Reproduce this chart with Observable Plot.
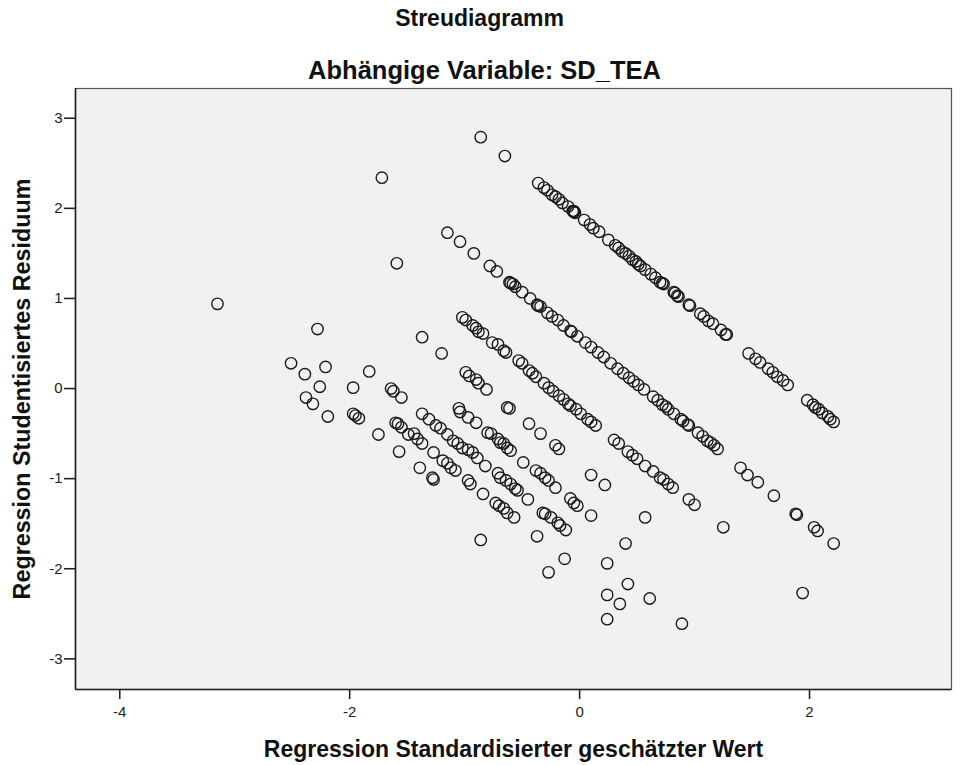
<!DOCTYPE html>
<html><head><meta charset="utf-8">
<script src="https://cdn.jsdelivr.net/npm/d3@7"></script>
<script src="https://cdn.jsdelivr.net/npm/@observablehq/plot@0.6"></script>
<style>
body{margin:0;background:#fff;}
#chart svg{font-family:"Liberation Sans",Arial,sans-serif;}
</style>
</head><body><div id="chart"></div>
<script>
const title = "Streudiagramm";
const subtitle = "Abhängige Variable: SD_TEA";
const xLabel = "Regression Standardisierter geschätzter Wert";
const yLabel = "Regression Studentisiertes Residuum";
const xTicks = [-4, -2, 0, 2];
const yTicks = [-3, -2, -1, 0, 1, 2, 3];

const isolated = [[-1.72,2.34],[-1.59,1.39],[-3.15,0.94],[-2.28,0.66],[-2.51,0.28],[-2.39,0.16],[-2.21,0.24],[-1.83,0.19],[-0.86,2.79],[-0.65,2.58]];
const leftCluster = [[-2.26,0.02],[-1.97,0.01],[-2.38,-0.10],[-2.32,-0.17],[-2.19,-0.31],[-1.64,0.00],[-1.62,-0.03],[-1.55,-0.10],[-1.97,-0.28],[-1.95,-0.30],[-1.92,-0.33],[-1.75,-0.51],[-1.60,-0.38],[-1.58,-0.39],[-1.55,-0.43],[-1.49,-0.51],[-1.57,-0.70]];
const bandA = [[-0.36,2.28],[-0.31,2.23],[-0.28,2.20],[-0.24,2.15],[-0.21,2.13],[-0.18,2.10],[-0.15,2.06],[-0.10,2.02],[-0.06,1.97],[-0.05,1.96],[-0.04,1.95],[-0.05,1.97],[0.04,1.87],[0.09,1.82],[0.12,1.78],[0.17,1.74],[0.25,1.65],[0.31,1.59],[0.34,1.56],[0.37,1.52],[0.40,1.50],[0.43,1.47],[0.46,1.43],[0.49,1.41],[0.51,1.38],[0.53,1.36],[0.57,1.32],[0.62,1.27],[0.66,1.23],[0.70,1.18],[0.72,1.17],[0.73,1.16],[0.82,1.07],[0.83,1.06],[0.85,1.03],[0.86,1.02],[0.95,0.93],[0.96,0.92],[1.05,0.83],[1.08,0.80],[1.12,0.75],[1.16,0.72],[1.23,0.65],[1.27,0.60],[1.28,0.60]];
const bandA2 = [[1.47,0.39],[1.53,0.33],[1.57,0.29],[1.64,0.22],[1.68,0.18],[1.72,0.13],[1.77,0.09],[1.81,0.04],[1.98,-0.13],[2.03,-0.18],[2.05,-0.21],[2.08,-0.23],[2.11,-0.27],[2.16,-0.31],[2.18,-0.34],[2.21,-0.37]];
const bandB = [[-1.15,1.73],[-1.04,1.63],[-0.92,1.50],[-0.78,1.36],[-0.72,1.30],[-0.61,1.18],[-0.58,1.16],[-0.56,1.13],[-0.60,1.17],[-0.50,1.07],[-0.43,1.00],[-0.37,0.93],[-0.34,0.91],[-0.36,0.92],[-0.28,0.84],[-0.24,0.80],[-0.19,0.76],[-0.14,0.70],[-0.08,0.64],[-0.07,0.63],[-0.02,0.58],[0.05,0.51],[0.10,0.46],[0.16,0.40],[0.21,0.35],[0.27,0.28],[0.33,0.22],[0.38,0.17],[0.43,0.12],[0.47,0.08],[0.51,0.04],[0.56,-0.01],[0.64,-0.09],[0.68,-0.13],[0.72,-0.18],[0.75,-0.20],[0.77,-0.23],[0.82,-0.28],[0.88,-0.34],[0.90,-0.36],[0.94,-0.40],[0.95,-0.41],[1.03,-0.49],[1.07,-0.53],[1.11,-0.58],[1.14,-0.60],[1.17,-0.63],[1.20,-0.67]];
const bandB2 = [[1.40,-0.88],[1.46,-0.96],[1.55,-1.04],[1.69,-1.19],[1.88,-1.39],[1.89,-1.40],[2.04,-1.54],[2.07,-1.58],[2.21,-1.72]];
const bandC = [[-1.02,0.79],[-0.99,0.76],[-0.93,0.70],[-0.90,0.67],[-0.88,0.63],[-0.84,0.61],[-0.76,0.51],[-0.71,0.49],[-0.66,0.42],[-0.64,0.40],[-0.53,0.31],[-0.50,0.28],[-0.44,0.20],[-0.41,0.17],[-0.38,0.13],[-0.31,0.06],[-0.27,0.01],[-0.23,-0.03],[-0.18,-0.08],[-0.14,-0.12],[-0.10,-0.17],[-0.08,-0.19],[-0.03,-0.23],[0.01,-0.28],[0.07,-0.34],[0.10,-0.37],[0.14,-0.41],[0.30,-0.57],[0.34,-0.61],[0.42,-0.70],[0.46,-0.74],[0.50,-0.78],[0.57,-0.86],[0.64,-0.92],[0.70,-0.99],[0.73,-1.01],[0.77,-1.06],[0.81,-1.10],[0.95,-1.23],[1.00,-1.29]];
const bandD = [[-1.37,-0.28],[-1.31,-0.34],[-1.25,-0.41],[-1.21,-0.44],[-1.15,-0.51],[-1.10,-0.58],[-1.06,-0.61],[-1.02,-0.66],[-0.97,-0.68],[-0.93,-0.71],[-0.89,-0.77],[-0.82,-0.86],[-0.71,-0.94],[-0.69,-0.99],[-0.64,-1.02],[-0.60,-1.06],[-0.56,-1.11],[-0.54,-1.13],[-0.45,-1.23],[-0.32,-1.38],[-0.30,-1.39],[-0.25,-1.43],[-0.19,-1.49],[-0.17,-1.52],[-0.12,-1.57],[0.24,-1.94],[0.42,-2.17],[0.61,-2.33],[0.89,-2.61]];
const bandE = [[-1.05,-0.22],[-1.04,-0.26],[-0.97,-0.32],[-0.90,-0.38],[-0.80,-0.49],[-0.77,-0.50],[-0.71,-0.56],[-0.69,-0.60],[-0.66,-0.61],[-0.63,-0.66],[-0.60,-0.69],[-0.49,-0.82],[-0.38,-0.91],[-0.34,-0.94],[-0.30,-0.99],[-0.27,-1.02],[-0.21,-1.10],[-0.08,-1.22],[-0.05,-1.27],[-0.02,-1.30],[0.10,-1.41],[0.40,-1.72]];
const bandF = [[-1.37,0.57],[-1.20,0.39],[-0.99,0.18],[-0.96,0.14],[-0.90,0.10],[-0.88,0.06],[-0.81,-0.01],[-0.63,-0.21],[-0.61,-0.22],[-0.44,-0.39],[-0.34,-0.50],[-0.21,-0.63],[-0.18,-0.67],[0.10,-0.96],[0.22,-1.07],[0.57,-1.43]];
const bandG = [[-1.44,-0.50],[-1.41,-0.56],[-1.37,-0.61],[-1.27,-0.71],[-1.19,-0.80],[-1.15,-0.83],[-1.12,-0.88],[-1.08,-0.91],[-0.97,-1.02],[-0.95,-1.06],[-0.84,-1.17],[-0.73,-1.27],[-0.70,-1.30],[-0.66,-1.33],[-0.63,-1.38],[-0.57,-1.43],[-0.37,-1.64],[-0.13,-1.89],[0.24,-2.29],[0.35,-2.39]];
const bandH = [[-1.39,-0.88],[-1.28,-0.99],[-1.27,-1.01],[0.24,-2.56]];
const others = [[-0.86,-1.68],[-0.27,-2.04],[1.25,-1.54],[1.94,-2.27]];

const points = [...isolated, ...leftCluster, ...bandA, ...bandA2, ...bandB, ...bandB2, ...bandC, ...bandD, ...bandE, ...bandF, ...bandG, ...bandH, ...others]
  .map(([x, y]) => ({x, y}));

const font = "Liberation Sans, Arial, sans-serif";
const txt = {text: d => d, fontWeight: "bold", fill: "#111", textAnchor: "middle", lineAnchor: "middle"};
const chart = Plot.plot({
  width: 961,
  height: 765,
  marginTop: 88,
  marginBottom: 76,
  marginLeft: 75,
  marginRight: 10,
  x: {domain: [-4.385, 3.235]},
  y: {domain: [-3.34, 3.33]},
  style: {background: "#fff", fontFamily: font, color: "#111"},
  marks: [
    Plot.frame({fill: "#f0f1f3", stroke: "#555", strokeWidth: 1.2}),
    Plot.axisX({ticks: xTicks, tickSize: 10, tickPadding: 7, fontSize: 15, tickFormat: d => String(d), label: null, strokeWidth: 1.6, color: "#222"}),
    Plot.axisY({ticks: yTicks, tickSize: 11, tickPadding: 2, fontSize: 15, tickFormat: d => String(d), label: null, strokeWidth: 1.6, color: "#222"}),
    Plot.ruleX([-4.385], {stroke: "#222", strokeWidth: 1.6}),
    Plot.ruleY([-3.34], {stroke: "#222", strokeWidth: 1.6}),
    Plot.dot(points, {x: "x", y: "y", r: 5.7, stroke: "#1a1a1a", strokeWidth: 1.4, fill: "none"}),
    Plot.text([title], {...txt, frameAnchor: "top", dx: -34, dy: -70, fontSize: 23}),
    Plot.text([subtitle], {...txt, frameAnchor: "top", dx: -29, dy: -18, fontSize: 25.5}),
    Plot.text([xLabel], {...txt, frameAnchor: "bottom", dy: 60, fontSize: 23}),
    Plot.text([yLabel], {...txt, frameAnchor: "left", dx: -53, rotate: -90, fontSize: 23.3})
  ]
});
document.getElementById("chart").appendChild(chart);
</script>
</body></html>
